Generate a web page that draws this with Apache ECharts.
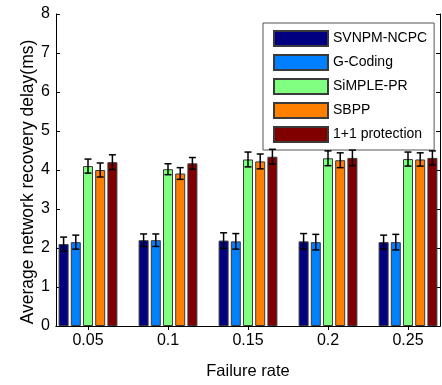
<!DOCTYPE html>
<html>
<head>
<meta charset="utf-8">
<script src="https://cdn.jsdelivr.net/npm/echarts@6/dist/echarts.min.js"></script>
<style>html,body{margin:0;padding:0;background:#fff}#c{width:442px;height:385px}</style>
</head>
<body>
<div id="c"></div>
<script>
const categories = ['0.05', '0.1', '0.15', '0.2', '0.25'];
const seriesNames = ['SVNPM-NCPC', 'G-Coding', 'SiMPLE-PR', 'SBPP', '1+1 protection'];
const svnpm   = [2.10, 2.20, 2.19, 2.17, 2.15];
const gcoding = [2.15, 2.20, 2.17, 2.15, 2.15];
const simple  = [4.10, 4.02, 4.27, 4.30, 4.28];
const sbpp    = [4.00, 3.91, 4.22, 4.25, 4.27];
const oneplus = [4.20, 4.17, 4.34, 4.31, 4.31];
const svnpmErr   = [0.18, 0.16, 0.20, 0.20, 0.18];
const gcodingErr = [0.18, 0.16, 0.20, 0.20, 0.20];
const simpleErr  = [0.18, 0.14, 0.19, 0.19, 0.18];
const sbppErr    = [0.18, 0.15, 0.19, 0.19, 0.17];
const oneplusErr = [0.19, 0.15, 0.19, 0.20, 0.18];
const yTicks = [0, 1, 2, 3, 4, 5, 6, 7, 8];

const values = [svnpm, gcoding, simple, sbpp, oneplus];
const errs = [svnpmErr, gcodingErr, simpleErr, sbppErr, oneplusErr];
const colors = ['#000080', '#0080ff', '#80ff80', '#ff8000', '#800000'];
const FONT = '"Liberation Sans", Arial, sans-serif';
const BAR_W = 10, BAR_GAP = 0.22;
const xPos = categories.map((c, i) => i + 1);

const chart = echarts.init(document.getElementById('c'), null, {renderer: 'canvas'});

const barSeries = seriesNames.map((name, s) => ({
  name, type: 'bar', xAxisIndex: 0, yAxisIndex: 0,
  barWidth: BAR_W, barGap: (BAR_GAP * 100) + '%',
  itemStyle: {color: colors[s], borderColor: '#3a3a3a', borderWidth: 1},
  emphasis: {disabled: true},
  data: values[s].map((v, i) => [xPos[i], v])
}));

const errSeries = seriesNames.map((name, s) => ({
  type: 'custom', xAxisIndex: 0, yAxisIndex: 0, z: 5, silent: true,
  data: values[s].map((v, i) => [xPos[i], v - errs[s][i], v + errs[s][i]]),
  renderItem: function (params, api) {
    const off = (s - 2) * BAR_W * (1 + BAR_GAP);
    const lo = api.coord([api.value(0), api.value(1)]);
    const hi = api.coord([api.value(0), api.value(2)]);
    const x = lo[0] + off, cap = 3.5;
    const st = {stroke: '#000', lineWidth: 1.5};
    return {type: 'group', children: [
      {type: 'line', shape: {x1: x, y1: lo[1], x2: x, y2: hi[1]}, style: st},
      {type: 'line', shape: {x1: x - cap, y1: lo[1], x2: x + cap, y2: lo[1]}, style: st},
      {type: 'line', shape: {x1: x - cap, y1: hi[1], x2: x + cap, y2: hi[1]}, style: st}
    ]};
  }
}));

const axisLine = {show: true, lineStyle: {color: '#000', width: 1}};
chart.setOption({
  animation: false,
  backgroundColor: '#fff',
  textStyle: {fontFamily: FONT},
  grid: {left: 56, right: 2, top: 14, bottom: 46.5, containLabel: false},
  legend: {
    orient: 'vertical', left: 263, top: 23,
    data: seriesNames,
    itemWidth: 54, itemHeight: 15, itemGap: 7,
    padding: [7, 7, 7, 10],
    backgroundColor: '#fff', borderColor: '#555', borderWidth: 1, borderRadius: 0,
    icon: 'rect',
    textStyle: {fontFamily: FONT, fontSize: 14, color: '#000'}
  },
  xAxis: [{
    type: 'value', position: 'bottom', min: 0.6, max: 5.4,
    axisLine, splitLine: {show: false},
    axisTick: {show: true, inside: true, length: 4, customValues: xPos, lineStyle: {color: '#000'}},
    axisLabel: {show: true, customValues: xPos, margin: 7, color: '#000', fontSize: 16, fontFamily: FONT,
      formatter: v => categories[Math.round(v) - 1]},
    name: 'Failure rate', nameLocation: 'middle', nameGap: 37,
    nameTextStyle: {fontSize: 16.5, color: '#000', fontFamily: FONT}
  }, {
    type: 'value', position: 'top', min: 0.6, max: 5.4,
    axisLine, splitLine: {show: false},
    axisTick: {show: true, inside: true, length: 4, customValues: xPos, lineStyle: {color: '#000'}},
    axisLabel: {show: false}
  }],
  yAxis: [{
    type: 'value', position: 'left', min: 0, max: 8, interval: 1,
    axisLine, splitLine: {show: false},
    axisTick: {show: true, inside: true, length: 4, lineStyle: {color: '#000'}},
    axisLabel: {color: '#000', fontSize: 16, margin: 6, fontFamily: FONT,
      formatter: v => String(yTicks[Math.round(v)])}
  }, {
    type: 'value', position: 'right', min: 0, max: 8, interval: 1,
    axisLine, splitLine: {show: false},
    axisTick: {show: true, inside: true, length: 4, lineStyle: {color: '#000'}},
    axisLabel: {show: false}
  }],
  graphic: [{
    type: 'text', x: 28, y: 182, rotation: Math.PI / 2,
    style: {text: 'Average network recovery delay(ms)', fontSize: 17.5, fontFamily: FONT,
      fill: '#000', align: 'center', verticalAlign: 'middle'}
  }],
  series: barSeries.concat(errSeries)
});
</script>
</body>
</html>
